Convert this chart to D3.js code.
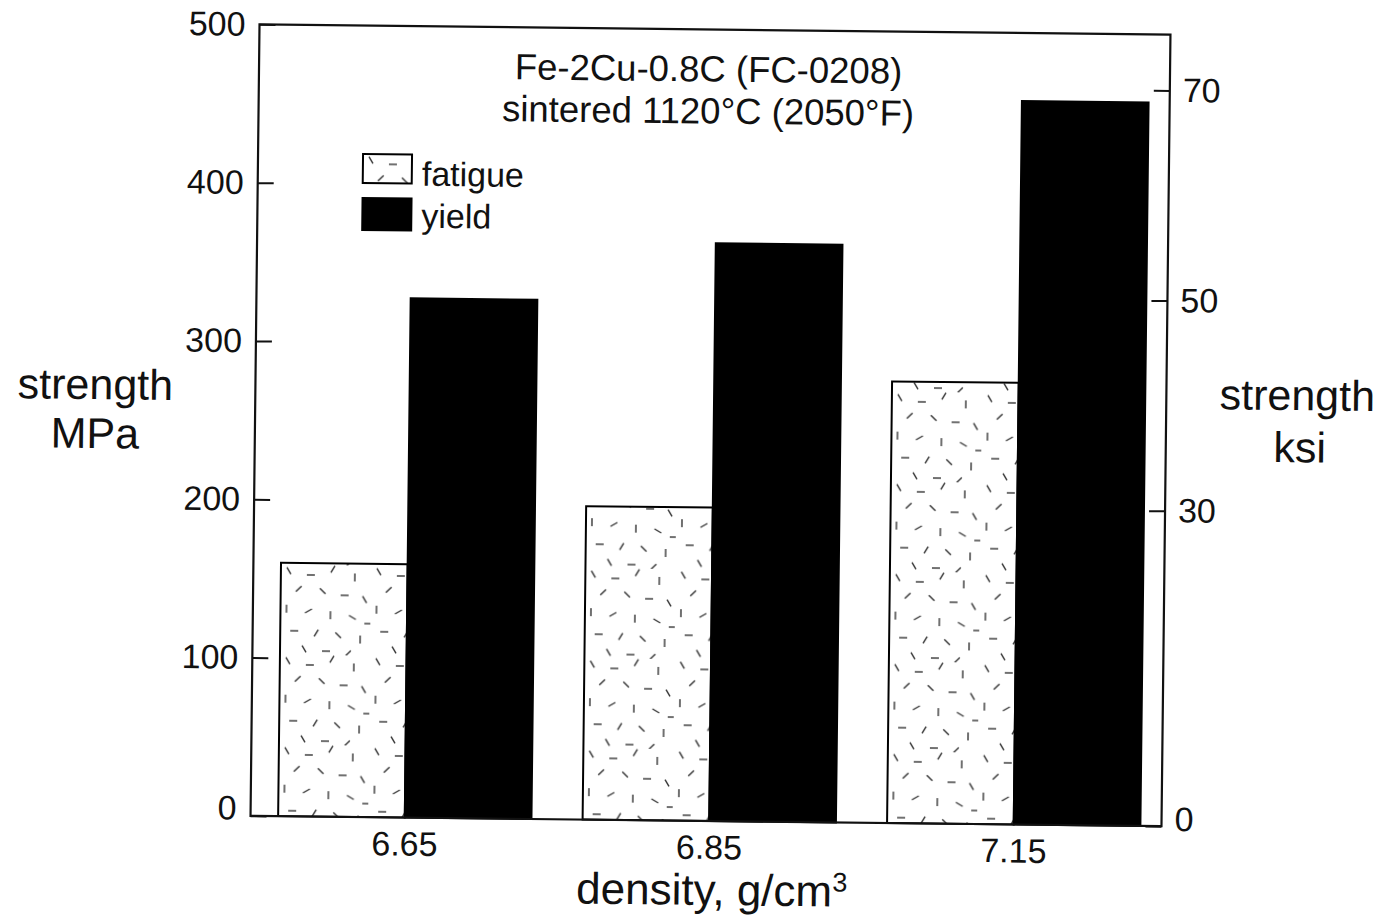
<!DOCTYPE html>
<html lang="en">
<head>
<meta charset="UTF-8">
<title>Fe-2Cu-0.8C strength vs density</title>
<script src="https://d3js.org/d3.v7.min.js"></script>
<style>
  body { margin: 0; background: #fff; }
  svg { display: block; font-family: "Liberation Sans", Arial, sans-serif; }
  .tick text { fill: #111; font-size: 34px; }
  .tick line { stroke: #111; stroke-width: 2; }
</style>
</head>
<body>
<svg id="chart" width="1385" height="918"></svg>
<script>
  // data
  const densities = ["6.65", "6.85", "7.15"];
  const seriesNames = ["fatigue", "yield"];
  const fatigue = [160, 198, 279];        // MPa
  const yieldStrength = [328, 365, 457];  // MPa
  const mpaTicks = [0, 100, 200, 300, 400, 500];
  const ksiTicks = [0, 30, 50, 70];
  const titleLines = ["Fe-2Cu-0.8C (FC-0208)", "sintered 1120°C (2050°F)"];

  const rows = densities.map((d, i) => ({ density: d, fatigue: fatigue[i], yield: yieldStrength[i] }));

  const margin = { top: 29.5, left: 255 };
  const width = 911;
  const height = 791.5;

  const svg = d3.select("#chart");

  // speckle texture for the fatigue bars: [x, y, angle]
  const speckle = [
    [8, 6, 60], [30, 10, 0], [52, 4, 120], [74, 12, 90], [18, 24, 135],
    [42, 26, 45], [64, 30, 0], [84, 34, 60], [6, 44, 90], [28, 46, 150],
    [50, 50, 90], [72, 52, 30], [14, 66, 0], [36, 68, 120], [58, 70, 45],
    [80, 74, 90], [24, 84, 60], [46, 86, 0], [68, 88, 135], [88, 58, 0]
  ];
  const pat = svg.append("defs").append("pattern")
    .attr("id", "speckle")
    .attr("patternUnits", "userSpaceOnUse")
    .attr("width", 90)
    .attr("height", 90);
  pat.append("rect").attr("width", 90).attr("height", 90).attr("fill", "#fff");
  pat.selectAll("line")
    .data(speckle)
    .join("line")
    .attr("x1", d => d[0] - 4 * Math.cos(d[2] * Math.PI / 180))
    .attr("y1", d => d[1] - 4 * Math.sin(d[2] * Math.PI / 180))
    .attr("x2", d => d[0] + 4 * Math.cos(d[2] * Math.PI / 180))
    .attr("y2", d => d[1] + 4 * Math.sin(d[2] * Math.PI / 180))
    .attr("stroke", "#333")
    .attr("stroke-width", 1.4);

  // the scanned figure is slightly tilted
  const root = svg.append("g").attr("transform", "rotate(0.65 710 425)");
  const g = root.append("g").attr("transform", `translate(${margin.left},${margin.top})`);

  // scales
  const x0 = d3.scaleBand().domain(densities).range([27.6, 889.9]).paddingInner(0.168);
  const x1 = d3.scaleBand().domain(seriesNames).range([0, x0.bandwidth()]);
  const y = d3.scaleLinear().domain([0, 500]).range([height, 0]);
  const ksi = d3.scaleLinear().domain([0, 75.3]).range([height, 0]);

  // bars
  const group = g.selectAll(".group")
    .data(rows)
    .join("g")
    .attr("class", "group")
    .attr("transform", d => `translate(${x0(d.density)},0)`);

  group.selectAll("rect")
    .data(d => seriesNames.map(k => ({ key: k, value: d[k] })))
    .join("rect")
    .attr("x", d => x1(d.key))
    .attr("y", d => y(d.value))
    .attr("width", x1.bandwidth())
    .attr("height", d => height - y(d.value))
    .attr("fill", d => d.key === "fatigue" ? "url(#speckle)" : "#000")
    .attr("stroke", "#000")
    .attr("stroke-width", 2);

  // left axis (MPa)
  const leftAxis = g.append("g")
    .call(d3.axisLeft(y).tickValues(mpaTicks).tickSizeInner(-16).tickSizeOuter(0).tickPadding(14));
  leftAxis.select(".domain").remove();
  leftAxis.selectAll(".tick").filter(d => d === 0).select("text").attr("dy", "0.1em");

  // right axis (ksi)
  const rightAxis = g.append("g")
    .attr("transform", `translate(${width},0)`)
    .call(d3.axisRight(ksi).tickValues(ksiTicks).tickSizeInner(-16).tickSizeOuter(0).tickPadding(13));
  rightAxis.select(".domain").remove();
  rightAxis.selectAll(".tick").filter(d => d === 0).select("text").attr("dy", "0.12em");

  // frame
  g.append("rect")
    .attr("width", width)
    .attr("height", height)
    .attr("fill", "none")
    .attr("stroke", "#111")
    .attr("stroke-width", 2.2);

  // category labels
  g.selectAll(".xlab")
    .data(densities)
    .join("text")
    .attr("class", "xlab")
    .attr("x", d => x0(d) + x0.bandwidth() / 2)
    .attr("y", height + 38)
    .attr("text-anchor", "middle")
    .attr("font-size", 34)
    .attr("fill", "#111")
    .text(d => d);

  // axis titles
  const xt = g.append("text")
    .attr("x", 462)
    .attr("y", height + 84)
    .attr("text-anchor", "middle")
    .attr("font-size", 44)
    .attr("fill", "#111")
    .text("density, g/cm");
  xt.append("tspan").attr("font-size", 27).attr("dy", -15).text("3");

  g.append("text")
    .attr("x", -160).attr("y", 376.5)
    .attr("text-anchor", "middle").attr("font-size", 43).attr("fill", "#111")
    .text("strength");
  g.append("text")
    .attr("x", -160).attr("y", 425.5)
    .attr("text-anchor", "middle").attr("font-size", 43).attr("fill", "#111")
    .text("MPa");

  g.append("text")
    .attr("x", 1042).attr("y", 374)
    .attr("text-anchor", "middle").attr("font-size", 43).attr("fill", "#111")
    .text("strength");
  g.append("text")
    .attr("x", 1045).attr("y", 426)
    .attr("text-anchor", "middle").attr("font-size", 43).attr("fill", "#111")
    .text("ksi");

  // title inside the plot
  g.selectAll(".title")
    .data(titleLines)
    .join("text")
    .attr("class", "title")
    .attr("x", 449.5)
    .attr("y", (d, i) => 52 + i * 42)
    .attr("text-anchor", "middle")
    .attr("font-size", 36.5)
    .attr("fill", "#111")
    .text(d => d);

  // legend
  const legend = g.append("g").attr("transform", "translate(105,128.5)");
  legend.selectAll("rect")
    .data(seriesNames)
    .join("rect")
    .attr("x", 0)
    .attr("y", (d, i) => i * 44)
    .attr("width", 49)
    .attr("height", (d, i) => i === 0 ? 29 : 32)
    .attr("fill", d => d === "fatigue" ? "url(#speckle)" : "#000")
    .attr("stroke", "#000")
    .attr("stroke-width", 2);
  legend.selectAll("text")
    .data(seriesNames)
    .join("text")
    .attr("x", 59)
    .attr("y", (d, i) => 31 + i * 42)
    .attr("font-size", 34)
    .attr("fill", "#111")
    .text(d => d);
</script>
</body>
</html>
